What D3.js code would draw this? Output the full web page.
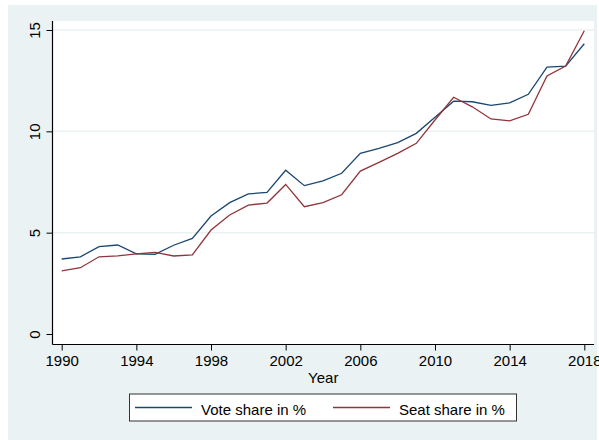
<!DOCTYPE html>
<html>
<head>
<meta charset="utf-8">
<script src="https://cdn.jsdelivr.net/npm/d3@7"></script>
<style>
  body { margin: 0; background: #fff; }
  text { font-family: "Liberation Sans", Arial, sans-serif; }
</style>
</head>
<body>
<div id="plot"></div>
<script>
// data
const years = d3.range(1990, 2019);
const voteShare = [3.70, 3.81, 4.31, 4.39, 3.96, 3.93, 4.38, 4.72, 5.82, 6.48,
  6.91, 6.99, 8.08, 7.32, 7.56, 7.93, 8.91, 9.16, 9.44, 9.90,
  10.69, 11.49, 11.46, 11.28, 11.40, 11.83, 13.17, 13.22, 14.32];
const seatShare = [3.11, 3.27, 3.81, 3.85, 3.95, 4.03, 3.85, 3.90, 5.13, 5.87,
  6.36, 6.46, 7.38, 6.28, 6.48, 6.87, 8.04, 8.47, 8.91, 9.41,
  10.56, 11.68, 11.21, 10.61, 10.52, 10.84, 12.73, 13.22, 14.96];
const xTicks = [1990, 1994, 1998, 2002, 2006, 2010, 2014, 2018];
const yTicks = [0, 5, 10, 15];
const seriesNames = ["Vote share in %", "Seat share in %"];
const colors = ["#1a476f", "#90353b"];

const w = 599;
const h = 440;
const plot = {left: 52.5, right: 594, top: 21, bottom: 344.5};

const svg = d3.select("div#plot")
  .append("svg")
    .attr("width", w)
    .attr("height", h);

// outer background
svg.append("rect")
  .attr("x", 8).attr("y", 5)
  .attr("width", 589).attr("height", 435)
  .attr("fill", "#eaf2f3");

// plot region
svg.append("rect")
  .attr("x", plot.left).attr("y", plot.top)
  .attr("width", plot.right - plot.left)
  .attr("height", plot.bottom - plot.top)
  .attr("fill", "#fff");

const xScale = d3.scaleLinear()
  .domain([1990, 2018])
  .range([61.7, 584.3]);

const yScale = d3.scaleLinear()
  .domain([0, 15])
  .range([334, 30]);

// gridlines
svg.append("g")
  .selectAll("line")
  .data(yTicks.filter(d => d > 0))
  .enter()
  .append("line")
    .attr("x1", plot.left)
    .attr("x2", plot.right)
    .attr("y1", d => yScale(d))
    .attr("y2", d => yScale(d))
    .attr("stroke", "#eaf2f3")
    .attr("stroke-width", 1.5);

// lines
const series = [voteShare, seatShare];
series.forEach((vals, i) => {
  const line = d3.line()
    .x((d, j) => xScale(years[j]))
    .y(d => yScale(d));
  svg.append("path")
    .datum(vals)
    .attr("d", line)
    .attr("fill", "none")
    .attr("stroke", colors[i])
    .attr("stroke-width", 1.3);
});

// x axis
const xAxis = svg.append("g")
  .attr("transform", `translate(0, ${plot.bottom})`)
  .call(d3.axisBottom(xScale).tickValues(xTicks).tickFormat(d3.format("d")).tickSizeOuter(0).tickSize(6).tickPadding(5));
xAxis.select(".domain").remove();
xAxis.append("line")
  .attr("x1", plot.left).attr("x2", plot.right)
  .attr("stroke", "#000").attr("stroke-width", 1.2);
xAxis.selectAll("text")
  .attr("fill", "#000")
  .style("font-size", "15px")
  .style("font-family", "Liberation Sans, Arial, sans-serif");

// y axis
const yAxis = svg.append("g")
  .attr("transform", `translate(${plot.left}, 0)`)
  .call(d3.axisLeft(yScale).tickValues(yTicks).tickSizeOuter(0).tickSize(6));
yAxis.select(".domain").remove();
yAxis.append("line")
  .attr("y1", plot.top).attr("y2", plot.bottom)
  .attr("stroke", "#000").attr("stroke-width", 1.2);
yAxis.selectAll(".tick text")
  .attr("x", 0).attr("dy", null)
  .attr("text-anchor", "middle")
  .attr("transform", "translate(-12.5, 0) rotate(-90)")
  .attr("y", 0)
  .attr("fill", "#000")
  .style("font-size", "15px")
  .style("font-family", "Liberation Sans, Arial, sans-serif");

// x axis label
svg.append("text")
  .attr("x", (plot.left + plot.right) / 2)
  .attr("y", 382.5)
  .attr("text-anchor", "middle")
  .style("font-size", "15px")
  .text("Year");

// legend
const legend = svg.append("g");
legend.append("rect")
  .attr("x", 129.5).attr("y", 394)
  .attr("width", 387).attr("height", 27)
  .attr("fill", "#fff")
  .attr("stroke", "#333")
  .attr("stroke-width", 1);

const legendX = [135, 333];
seriesNames.forEach((name, i) => {
  legend.append("line")
    .attr("x1", legendX[i]).attr("x2", legendX[i] + 57)
    .attr("y1", 407.5).attr("y2", 407.5)
    .attr("stroke", colors[i])
    .attr("stroke-width", 1.5);
  legend.append("text")
    .attr("x", legendX[i] + 66)
    .attr("y", 414.5)
    .style("font-size", "15px")
    .text(name);
});
</script>
</body>
</html>
